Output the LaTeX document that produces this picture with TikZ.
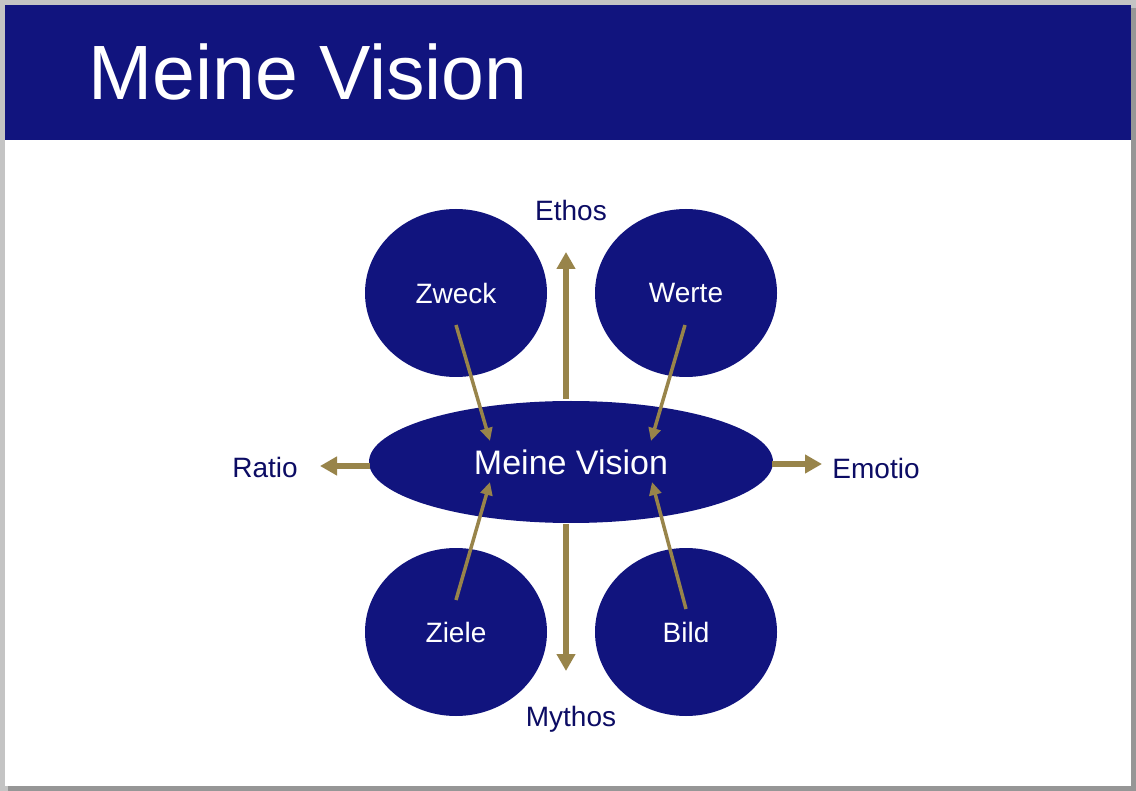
\documentclass[tikz,border=0pt]{standalone}
\usepackage{fontspec}
\setmainfont{Liberation Sans}
\usetikzlibrary{arrows.meta}
\definecolor{navy}{RGB}{17,20,126}
\definecolor{labelnavy}{RGB}{12,12,100}
\definecolor{gold}{RGB}{152,132,74}
\definecolor{frame}{RGB}{196,196,196}
\definecolor{shadow}{RGB}{150,150,150}
\tikzset{
  blob/.style={ellipse, fill=navy, draw=none, text=white, inner sep=0pt},
  lbl/.style={text=labelnavy, font=\fontsize{28}{34}\selectfont, inner sep=0pt},
  bigarrow/.style={gold, line width=6.5pt, -{Triangle[width=18pt,length=17pt]}},
  thinarrow/.style={gold, line width=3.5pt, -{Triangle[width=12pt,length=13pt]}},
}
\usetikzlibrary{shapes.geometric}
\begin{document}
\begin{tikzpicture}[x=1pt,y=-1pt]
\useasboundingbox (0,0) rectangle (1136,791);
\fill[frame] (0,0) rectangle (1136,791);
\fill[shadow] (8,8) rectangle (1136,791);
\fill[white] (5,5) rectangle (1131,786);
\fill[navy] (5,5) rectangle (1131,140);
\node[anchor=base west, text=white, font=\fontsize{77}{90}\selectfont, inner sep=0pt] (title) at (88,100) {Meine Vision};

\node[blob, minimum width=182pt, minimum height=168pt, font=\fontsize{28}{34}\selectfont] (zweck) at (456,293) {Zweck};
\node[blob, minimum width=182pt, minimum height=168pt, font=\fontsize{28}{34}\selectfont] (werte) at (686,293) {Werte};
\node[blob, minimum width=182pt, minimum height=168pt, font=\fontsize{28}{34}\selectfont] (ziele) at (456,632) {Ziele};
\node[blob, minimum width=182pt, minimum height=168pt, font=\fontsize{28}{34}\selectfont] (bild) at (686,632) {Bild};
\node[blob, minimum width=404pt, minimum height=122pt, font=\fontsize{34}{40}\selectfont] (vision) at (571,462) {Meine Vision};

\node[lbl] (ethos) at (571,210) {Ethos};
\node[lbl] (mythos) at (571,719) {Mythos};
\node[lbl] (ratio) at (265,467) {Ratio};
\node[lbl] (emotio) at (876,468) {Emotio};

\coordinate (upS) at (566,399);
\coordinate (upE) at (566,252);
\coordinate (dnS) at (566,524);
\coordinate (dnE) at (566,671);
\coordinate (lfS) at (370,466);
\coordinate (lfE) at (320,466);
\coordinate (rtS) at (772,464);
\coordinate (rtE) at (822,464);
\draw[bigarrow] (upS) -- (upE);
\draw[bigarrow] (dnS) -- (dnE);
\draw[bigarrow] (lfS) -- (lfE);
\draw[bigarrow] (rtS) -- (rtE);

\coordinate (zwS) at (456,325);
\coordinate (zwE) at (490,441);
\coordinate (weS) at (685,325);
\coordinate (weE) at (651,441);
\coordinate (ziS) at (456,600);
\coordinate (ziE) at (490,482);
\coordinate (biS) at (686,609);
\coordinate (biE) at (652,482);
\draw[thinarrow] (zwS) -- (zwE);
\draw[thinarrow] (weS) -- (weE);
\draw[thinarrow] (ziS) -- (ziE);
\draw[thinarrow] (biS) -- (biE);
\end{tikzpicture}
\end{document}
